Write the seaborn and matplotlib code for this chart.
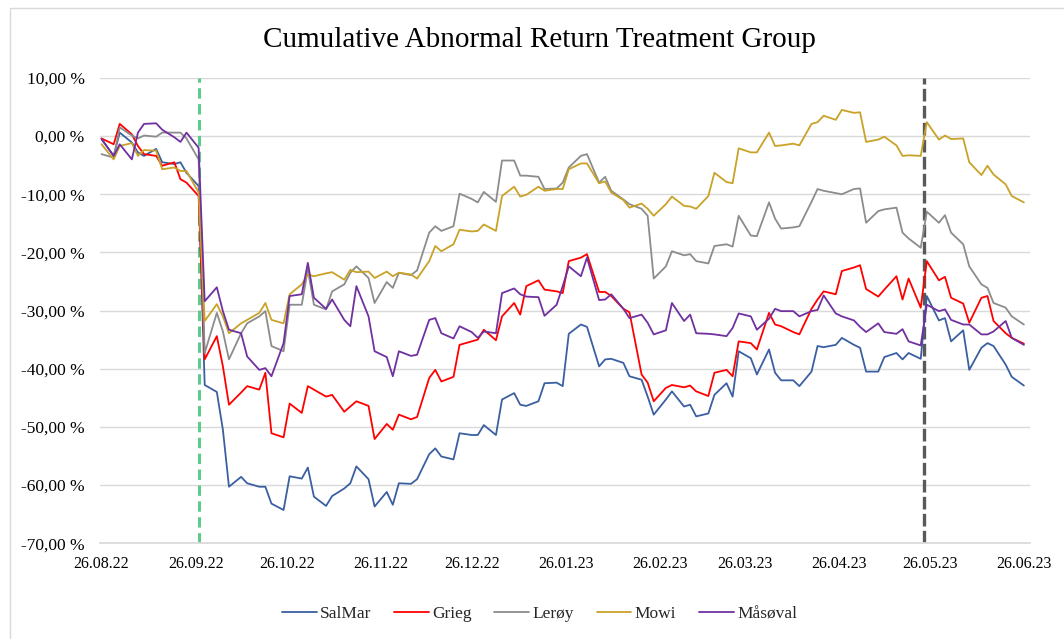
import pandas as pd
import seaborn as sns
import matplotlib.pyplot as plt
import matplotlib.dates as mdates
from matplotlib.ticker import FuncFormatter, MultipleLocator
from matplotlib.patches import Rectangle

# every second trading day, 26.08.22 - 26.06.23
dates = pd.bdate_range("2022-08-26", "2023-06-26")[::2]

# cumulative abnormal return in percent
salmar = [-0.5, -3.4, 0.6, -1.1, -2.8, -3.4, -2.2, -4.5, -4.8, -4.5, -6.3, -8.6,
          -42.8, -44.0, -50.5, -60.3, -58.6, -59.7, -60.3, -60.3, -63.2, -64.3, -58.5,
          -58.9, -57.0, -62.0, -63.6, -61.9, -60.6, -59.7, -56.8, -59.0, -63.7, -61.2,
          -63.4, -59.7, -59.8, -59.0, -54.7, -53.7, -55.1, -55.6, -51.1, -51.4, -51.4,
          -49.7, -51.4, -45.3, -44.2, -46.2, -46.4,
          -45.6, -42.5, -42.4, -43.0, -34.0, -32.4, -32.8, -39.6, -38.4, -38.3, -39.0,
          -41.3, -41.9, -44.8, -47.9, -45.3, -43.9, -46.5, -46.2,
          -48.2, -47.7, -44.5, -42.5, -44.8, -37.0, -38.2, -41.0, -36.7, -40.7, -42.0,
          -42.0, -43.0, -40.5, -36.1, -36.3, -35.9, -34.7, -35.9, -36.4,
          -40.5, -40.5, -38.0, -37.3, -38.4, -37.3, -38.3, -27.5, -31.7, -31.3, -35.3,
          -33.4, -40.2, -36.4, -35.6, -36.1, -39.3, -41.4, -42.9]
grieg = [-0.4, -1.4, 2.1, 0.3, -1.7, -3.1, -3.4, -5.1, -4.5, -7.4, -8.0, -10.3,
         -38.4, -34.4, -39.6, -46.2, -44.1, -43.0, -43.6, -40.7, -51.1, -51.8, -46.0,
         -47.6, -43.0, -43.6, -44.8, -44.5, -47.4, -46.5, -45.6, -46.4, -52.1, -49.5,
         -50.5, -47.9, -48.7, -48.3, -41.6, -40.2, -42.2, -41.4, -35.9, -35.3, -35.0,
         -33.3, -35.1, -31.0, -28.7, -30.7, -25.8,
         -24.8, -26.4, -26.7, -27.0, -21.5, -20.9, -20.3, -26.8, -26.8, -27.5, -29.7,
         -30.3, -41.0, -42.4, -45.6, -43.3, -42.8, -43.2, -42.9,
         -43.9, -44.7, -40.7, -40.2, -41.3, -35.3, -35.6, -36.7, -30.4, -32.4, -32.7,
         -33.7, -34.1, -29.7, -28.1, -26.7, -27.2, -23.2, -22.6, -22.2,
         -26.3, -27.6, -26.4, -24.1, -28.1, -24.5, -29.5, -21.5, -24.8, -24.2, -27.8,
         -28.8, -32.1, -27.8, -27.5, -31.8, -33.9, -34.7, -35.7]
leroy = [-3.1, -3.7, 1.5, 0.1, -0.4, 0.1, -0.1, 0.6, 0.6, 0.6, -0.4, -4.0,
         -37.3, -30.4, -33.6, -38.4, -33.9, -32.2, -31.0, -30.1, -36.1, -37.0, -29.0,
         -29.0, -22.9, -29.0, -29.8, -26.7, -25.5, -23.5, -22.4, -24.4, -28.7, -25.1,
         -26.1, -23.5, -23.9, -23.1, -16.6, -15.5, -16.3, -15.5, -9.9, -10.8, -11.4,
         -9.6, -11.3, -4.2, -4.2, -6.8, -6.8,
         -7.0, -9.1, -9.0, -8.0, -5.4, -3.4, -3.1, -8.0, -7.0, -9.4, -10.9,
         -11.7, -12.5, -13.7, -24.5, -22.4, -19.8, -20.5, -20.3,
         -21.5, -21.9, -18.9, -18.6, -19.0, -13.7, -17.1, -17.2, -11.4, -14.2, -15.9,
         -15.7, -15.5, -11.3, -9.1, -9.4, -9.8, -10.0, -9.1, -9.0,
         -14.9, -12.9, -12.6, -12.3, -16.6, -17.6, -19.2, -13.0, -14.9, -13.6, -16.6,
         -18.6, -22.4, -25.5, -26.1, -28.7, -29.5, -31.0, -32.4]
mowi = [-1.4, -4.0, -1.7, -1.2, -3.4, -2.4, -2.5, -5.7, -5.4, -6.0, -6.0, -9.7,
        -31.8, -28.9, -31.0, -33.9, -32.2, -31.6, -30.4, -28.7, -31.6, -32.2, -27.2,
        -25.5, -23.8, -24.1, -23.6, -23.4, -24.7, -23.0, -23.4, -23.3, -24.4, -23.3,
        -24.1, -23.5, -23.8, -24.5, -21.5, -18.9, -19.8, -18.6, -16.1, -16.4, -16.3,
        -15.2, -16.3, -10.3, -8.7, -10.4, -10.1,
        -8.7, -9.4, -9.1, -9.1, -5.7, -4.7, -4.7, -8.1, -7.8, -9.7, -11.0,
        -12.3, -11.6, -12.5, -13.7, -11.7, -10.4, -12.0, -12.1,
        -12.5, -10.3, -6.3, -7.9, -8.1, -2.1, -2.8, -2.8, 0.6, -1.7, -1.6,
        -1.3, -1.6, 2.1, 2.4, 3.5, 2.8, 4.5, 4.0, 4.1,
        -1.0, -0.6, -0.1, -1.6, -3.4, -3.3, -3.4, 2.4, -0.6, 0.1, -0.5,
        -0.4, -4.5, -6.7, -5.1, -6.6, -8.3, -10.3, -11.4]
masoval = [-0.5, -3.4, -1.4, -4.0, 0.6, 2.1, 2.2, 1.1, -0.2, -1.0, 0.6, -2.0,
           -28.4, -26.0, -30.1, -33.3, -33.9, -37.9, -40.2, -39.9, -41.3, -35.6, -27.5,
           -27.2, -21.8, -27.8, -29.7, -28.1, -31.6, -32.7, -25.8, -31.0, -37.0, -38.0,
           -41.3, -37.0, -37.8, -37.6, -31.6, -31.3, -33.9, -34.8, -32.7, -33.7, -34.7,
           -33.6, -33.9, -27.0, -26.2, -27.2, -27.6,
           -27.7, -30.9, -29.0, -25.8, -22.4, -24.1, -20.9, -28.2, -28.1, -27.2, -29.7,
           -31.3, -30.7, -32.1, -34.1, -33.4, -28.7, -31.8, -30.7,
           -33.9, -34.0, -34.1, -34.4, -33.0, -30.5, -31.0, -33.3, -31.4, -29.7, -30.1,
           -30.1, -31.0, -30.1, -29.9, -27.4, -30.5, -31.0, -31.7, -32.8,
           -33.7, -32.2, -33.7, -34.0, -33.2, -35.3, -36.0, -29.0, -30.1, -29.8, -31.6,
           -32.4, -32.4, -34.1, -34.1, -33.6, -31.8, -34.7, -35.9]

companies = ["SalMar", "Grieg", "Lerøy", "Mowi", "Måsøval"]
colors = ["#3B5FA0", "#FF0000", "#8C8C8C", "#C9A227", "#7030A0"]
event_dates = ["2022-09-27", "2023-05-24"]

# long format for seaborn
frames = []
for name, vals in zip(companies, [salmar, grieg, leroy, mowi, masoval]):
    frames.append(pd.DataFrame({"Date": dates, "CAR": vals, "Company": name}))
data = pd.concat(frames, ignore_index=True)

sns.set_theme(style="white")
plt.rcParams["font.family"] = ["Liberation Serif", "DejaVu Serif"]

fig = plt.figure(figsize=(10.64, 6.39), dpi=100)
fig.patches.append(Rectangle((10 / 1064, -0.01), 1.0, 1.0 - 8 / 639 + 0.01,
                             transform=fig.transFigure, fill=False,
                             edgecolor="#D9D9D9", lw=1.0))
ax = fig.add_axes([0.094, 0.150, 0.874, 0.728])

sns.lineplot(data=data, x="Date", y="CAR", hue="Company", hue_order=companies,
             palette=colors, linewidth=1.3, ax=ax)

# event window markers
ax.axvline(pd.Timestamp(event_dates[0]), color="#5CCB8C", lw=2.2,
           linestyle=(0, (3.4, 1.8)), zorder=1.5)
ax.axvline(pd.Timestamp(event_dates[1]), color="#595959", lw=2.4,
           linestyle=(0, (3.8, 1.3)), zorder=1.5)

ax.set_ylim(-70, 10)
ax.set_xlim(pd.Timestamp("2022-08-25 12:00"), pd.Timestamp("2023-06-28"))
ax.yaxis.set_major_locator(MultipleLocator(10))
ax.yaxis.set_major_formatter(FuncFormatter(lambda v, _: f"{v:.2f} %".replace(".", ",")))
ax.xaxis.set_major_locator(mdates.MonthLocator(bymonthday=26))
ax.xaxis.set_major_formatter(mdates.DateFormatter("%d.%m.%y"))

ax.yaxis.grid(True, color="#D9D9D9", lw=1.0)
ax.xaxis.grid(False)
for side in ["left", "top", "right"]:
    ax.spines[side].set_visible(False)
ax.spines["bottom"].set_color("#D9D9D9")
ax.tick_params(axis="y", length=0, pad=11, labelsize=12.5, labelcolor="#000000")
ax.tick_params(axis="x", length=0, pad=9, labelsize=11.5, labelcolor="#000000")
ax.set_xlabel("")
ax.set_ylabel("")

fig.text(0.507, 1 - 40 / 639, "Cumulative Abnormal Return Treatment Group",
         ha="center", va="center", fontsize=21, color="#000000")

sns.move_legend(ax, "center", bbox_to_anchor=(0.507, 1 - 614 / 639),
                bbox_transform=fig.transFigure, ncol=5, frameon=False, title=None,
                fontsize=12.5, handlelength=2.0, handletextpad=0.2, columnspacing=1.3)

plt.savefig("out.png", dpi=100)
plt.close()
